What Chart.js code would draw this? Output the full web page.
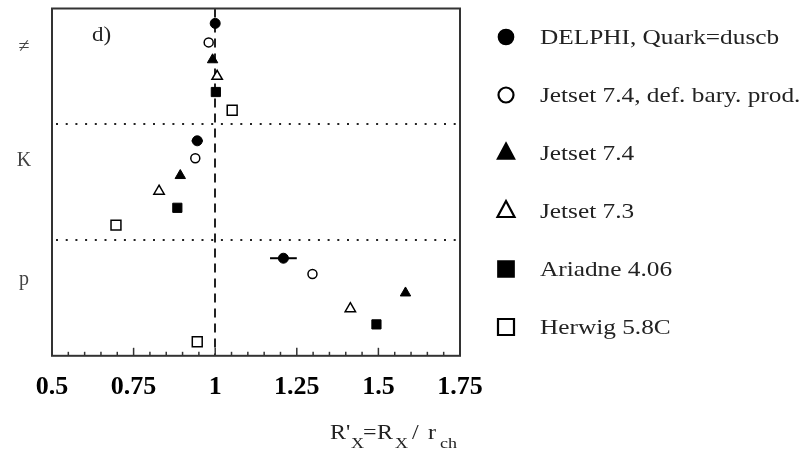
<!DOCTYPE html>
<html>
<head>
<meta charset="utf-8">
<script src="https://cdn.jsdelivr.net/npm/chart.js@4.4.0/dist/chart.umd.min.js"></script>
<style>
  html, body { margin: 0; padding: 0; background: #fff; }
  #wrap { width: 804px; height: 452px; }
</style>
</head>
<body>
<div id="wrap"><canvas id="ratioChart"></canvas></div>
<script>
const bands = ['≠', 'K', 'p'];
const bandLabelY = [2.3, 9.2, 16.4];
const bandEdges = [7, 14];
const seriesNames = ['DELPHI, Quark=duscb', 'Jetset 7.4, def. bary. prod.', 'Jetset 7.4', 'Jetset 7.3', 'Ariadne 4.06', 'Herwig 5.8C'];

// R'_X for each band (≠, K, p)
const delphi = [1.0, 0.945, 1.209];
const delphiErr = [0, 0.017, 0.041];
const jetset74bary = [0.98, 0.939, 1.298];
const jetset74 = [0.992, 0.893, 1.583];
const jetset73 = [1.006, 0.828, 1.414];
const ariadne = [1.002, 0.884, 1.494];
const herwig = [1.052, 0.696, 0.945];

// vertical slot of each series in each band (axis units, 7 per band)
const delphiRow = [0.9, 8.0, 15.1];
const jetset74baryRow = [2.05, 9.05, 16.05];
const jetset74Row = [3.1, 10.1, 17.2];
const jetset73Row = [4.1, 11.05, 18.15];
const ariadneRow = [5.05, 12.05, 19.1];
const herwigRow = [6.15, 13.1, 20.15];

const xTicks = [0.5, 0.75, 1, 1.25, 1.5, 1.75];

const serif = '"Liberation Serif", "DejaVu Serif", serif';

const pts = (xs, ys) => xs.map((x, i) => ({ x: x, y: ys[i] }));

const markerStyles = [
    { pointStyle: 'circle', radius: 5, bg: '#000', bw: 1 },
    { pointStyle: 'circle', radius: 4.5, bg: '#fff', bw: 1.5 },
    { pointStyle: 'triangle', radius: 6, bg: '#000', bw: 1 },
    { pointStyle: 'triangle', radius: 6, bg: '#fff', bw: 1.5 },
    { pointStyle: 'rect', radius: 6.5, bg: '#000', bw: 1 },
    { pointStyle: 'rect', radius: 7, bg: '#fff', bw: 1.5 }
];

const seriesData = [
    pts(delphi, delphiRow),
    pts(jetset74bary, jetset74baryRow),
    pts(jetset74, jetset74Row),
    pts(jetset73, jetset73Row),
    pts(ariadne, ariadneRow),
    pts(herwig, herwigRow)
];

const datasets = seriesData.map((d, i) => ({
    label: seriesNames[i],
    data: d,
    pointStyle: markerStyles[i].pointStyle,
    pointRadius: markerStyles[i].radius,
    pointHoverRadius: markerStyles[i].radius,
    backgroundColor: markerStyles[i].bg,
    borderColor: '#000',
    pointBorderWidth: markerStyles[i].bw
}));

function drawMarker(ctx, style, x, y) {
    ctx.save();
    ctx.fillStyle = style.bg;
    ctx.strokeStyle = '#000';
    ctx.lineWidth = style.bw + 0.7;
    ctx.beginPath();
    if (style.pointStyle === 'circle') {
        ctx.arc(x, y, 7.5, 0, Math.PI * 2);
    } else if (style.pointStyle === 'triangle') {
        const r = 10;
        ctx.moveTo(x, y - r);
        ctx.lineTo(x + r * 0.85, y + r * 0.6);
        ctx.lineTo(x - r * 0.85, y + r * 0.6);
        ctx.closePath();
    } else {
        const s = 8;
        ctx.rect(x - s, y - s, 2 * s, 2 * s);
    }
    ctx.fill();
    ctx.stroke();
    ctx.restore();
}

// the original scan is wider than Times metrics, so stretch text a bit
function stretchText(ctx, text, x, y, sx) {
    ctx.save();
    ctx.translate(x, y);
    ctx.scale(sx, 1);
    ctx.fillText(text, 0, 0);
    ctx.restore();
}

const decorations = {
    id: 'decorations',
    beforeDatasetsDraw(chart) {
        const { ctx, chartArea: a, scales: { x, y } } = chart;
        ctx.save();
        // band separators
        ctx.strokeStyle = '#222';
        ctx.lineWidth = 2;
        ctx.setLineDash([2, 7.7]);
        bandEdges.forEach(v => {
            const py = Math.round(y.getPixelForValue(v));
            ctx.beginPath();
            ctx.moveTo(a.left + 4, py);
            ctx.lineTo(a.right, py);
            ctx.stroke();
        });
        // reference line at 1
        ctx.setLineDash([9, 6]);
        const px = Math.round(x.getPixelForValue(1));
        ctx.beginPath();
        ctx.moveTo(px, a.top);
        ctx.lineTo(px, a.bottom);
        ctx.stroke();
        ctx.setLineDash([]);
        // frame
        ctx.strokeStyle = '#333';
        ctx.lineWidth = 2;
        ctx.strokeRect(a.left, a.top, a.right - a.left, a.bottom - a.top);
        // bottom ticks pointing inward
        ctx.lineWidth = 1.5;
        for (let i = 0; i <= 25; i++) {
            const v = 0.5 + i * 0.05;
            const tx = x.getPixelForValue(v);
            const len = (i % 5 === 0) ? 8 : 4;
            ctx.beginPath();
            ctx.moveTo(tx, a.bottom);
            ctx.lineTo(tx, a.bottom - len);
            ctx.stroke();
        }
        ctx.restore();
    },
    afterDatasetsDraw(chart) {
        const { ctx, scales: { x, y } } = chart;
        ctx.save();
        // DELPHI errors
        ctx.strokeStyle = '#000';
        ctx.lineWidth = 2;
        delphi.forEach((v, i) => {
            if (!delphiErr[i]) return;
            const py = y.getPixelForValue(delphiRow[i]);
            ctx.beginPath();
            ctx.moveTo(x.getPixelForValue(v - delphiErr[i]), py);
            ctx.lineTo(x.getPixelForValue(v + delphiErr[i]), py);
            ctx.stroke();
        });
        // band labels
        ctx.fillStyle = '#444';
        ctx.font = '20px ' + serif;
        ctx.textAlign = 'center';
        ctx.textBaseline = 'middle';
        bands.forEach((b, i) => {
            ctx.fillText(b, 24, y.getPixelForValue(bandLabelY[i]));
        });
        // panel tag
        ctx.fillStyle = '#222';
        ctx.textAlign = 'left';
        stretchText(ctx, 'd)', 92, 36, 1.15);
        // axis title with subscripts
        ctx.textBaseline = 'alphabetic';
        const parts = [
            ['R\'', 330, 0], ['X', 351, 1], ['=', 363, 0], ['R', 377, 0],
            ['X', 395, 1], ['/', 412, 0], ['r', 428, 0], ['ch', 440, 1]
        ];
        parts.forEach(([t, px, sub]) => {
            ctx.font = (sub ? '15px ' : '20px ') + serif;
            stretchText(ctx, t, px, sub ? 448 : 439, 1.2);
        });
        // legend
        ctx.font = '22px ' + serif;
        ctx.textBaseline = 'middle';
        seriesNames.forEach((name, i) => {
            const ly = 37 + i * 58;
            drawMarker(ctx, markerStyles[i], 506, ly);
            ctx.fillStyle = '#222';
            stretchText(ctx, name, 540, ly + 1, 1.15);
        });
        ctx.restore();
    }
};

new Chart(document.getElementById('ratioChart').getContext('2d'), {
    type: 'scatter',
    data: { datasets: datasets },
    options: {
        responsive: true,
        maintainAspectRatio: false,
        animation: false,
        layout: { padding: { left: 52, right: 344, top: 7, bottom: 33 } },
        plugins: { legend: { display: false }, tooltip: { enabled: false } },
        scales: {
            x: {
                type: 'linear',
                min: 0.5,
                max: 1.75,
                afterBuildTicks: s => { s.ticks = xTicks.map(v => ({ value: v })); },
                grid: { display: false, drawTicks: false },
                border: { display: false },
                ticks: {
                    padding: 16,
                    color: '#000',
                    font: { family: serif, size: 26, weight: 'bold' },
                    maxRotation: 0,
                    callback: v => String(v)
                }
            },
            y: {
                type: 'linear',
                display: false,
                reverse: true,
                min: 0,
                max: 21
            }
        }
    },
    plugins: [decorations]
});
</script>
</body>
</html>
